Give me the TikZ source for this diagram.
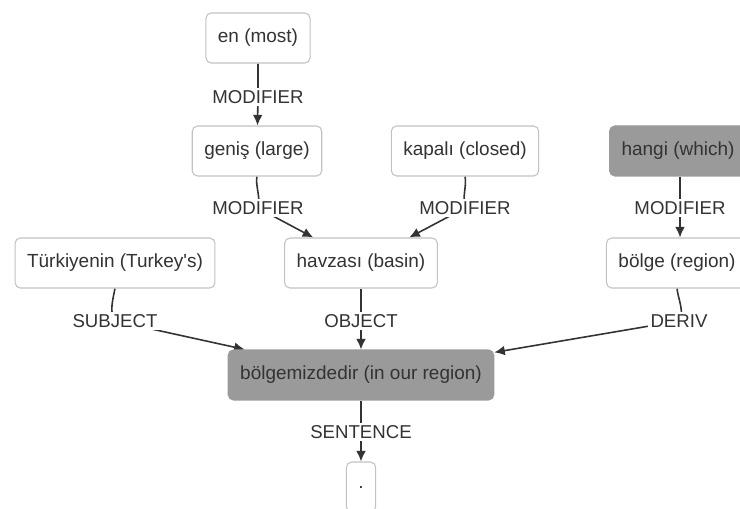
\documentclass[tikz,border=0pt]{standalone}
\usepackage{fontspec}
\setmainfont{Liberation Sans}[Ligatures=TeXOff]
\usetikzlibrary{arrows.meta,backgrounds}

\definecolor{wordline}{HTML}{C2C2C2}
\definecolor{rootfill}{HTML}{9A9A9A}
\definecolor{ink}{HTML}{333333}

\begin{document}
\begin{tikzpicture}[x=0.02cm,y=-0.02cm,
    word/.style={draw=wordline, line width=0.6pt, fill=white, rounded corners=3pt,
      minimum height=1cm, inner xsep=0.24cm, text=ink, font=\fontsize{10.8}{13}\selectfont},
    root/.style={word, draw=rootfill, fill=rootfill},
    rel/.style={fill=white, inner sep=1.5pt, text=ink, font=\fontsize{10.6}{13}\selectfont},
    dep/.style={draw=ink, line width=0.9pt, -{Latex[length=6pt,width=5.5pt]}}]

    % Fix the page size
    \useasboundingbox (0,0) rectangle (740,509);

    % Draw the words
    \node[word] (en) at (258,38) {en (most)};
    \node[word] (genis) at (257,151) {geniş (large)};
    \node[word] (kapali) at (465,151) {kapalı (closed)};
    \node[root] (hangi) at (678,151) {hangi (which)};
    \node[word] (turkiye) at (115,263) {Türkiyenin (Turkey's)};
    \node[word] (havza) at (361,263) {havzası (basin)};
    \node[word] (bolge) at (677,263) {bölge (region)};
    \node[root] (bolgemiz) at (361,375) {bölgemizdedir (in our region)};
    \node[word] (dot) at (361,487) {.};

    % Label the relations
    \node[rel] (mod1) at (258,97) {MODIFIER};
    \node[rel] (mod2) at (258,208) {MODIFIER};
    \node[rel] (mod3) at (465,208) {MODIFIER};
    \node[rel] (mod4) at (680,208) {MODIFIER};
    \node[rel] (subj) at (115,321) {SUBJECT};
    \node[rel] (obj) at (361,321) {OBJECT};
    \node[rel] (deriv) at (679,321) {DERIV};
    \node[rel] (sent) at (361,432) {SENTENCE};

    % Draw the dependency arrows behind the labels
    \begin{scope}[on background layer]
        \fill[white] (0,0) rectangle (740,509);
        \draw[dep] (en) -- (mod1.center) -- (genis);
        \draw[dep] (genis.south) .. controls +(-2,8) and +(3,-10) .. (mod2.center) -- (havza);
        \draw[dep] (kapali.south) .. controls +(2,8) and +(-3,-10) .. (mod3.center) -- (havza);
        \draw[dep] (hangi.south -| mod4) -- (mod4.center) -- (bolge.north -| mod4);
        \draw[dep] (turkiye.south) .. controls +(-2,10) and +(-6,-8) .. (subj.center) -- (bolgemiz);
        \draw[dep] (havza) -- (obj.center) -- (bolgemiz);
        \draw[dep] (bolge.south) .. controls +(1,10) and +(6,-8) .. (deriv.center) -- (bolgemiz);
        \draw[dep] (bolgemiz) -- (sent.center) -- (dot);
    \end{scope}

\end{tikzpicture}
\end{document}
